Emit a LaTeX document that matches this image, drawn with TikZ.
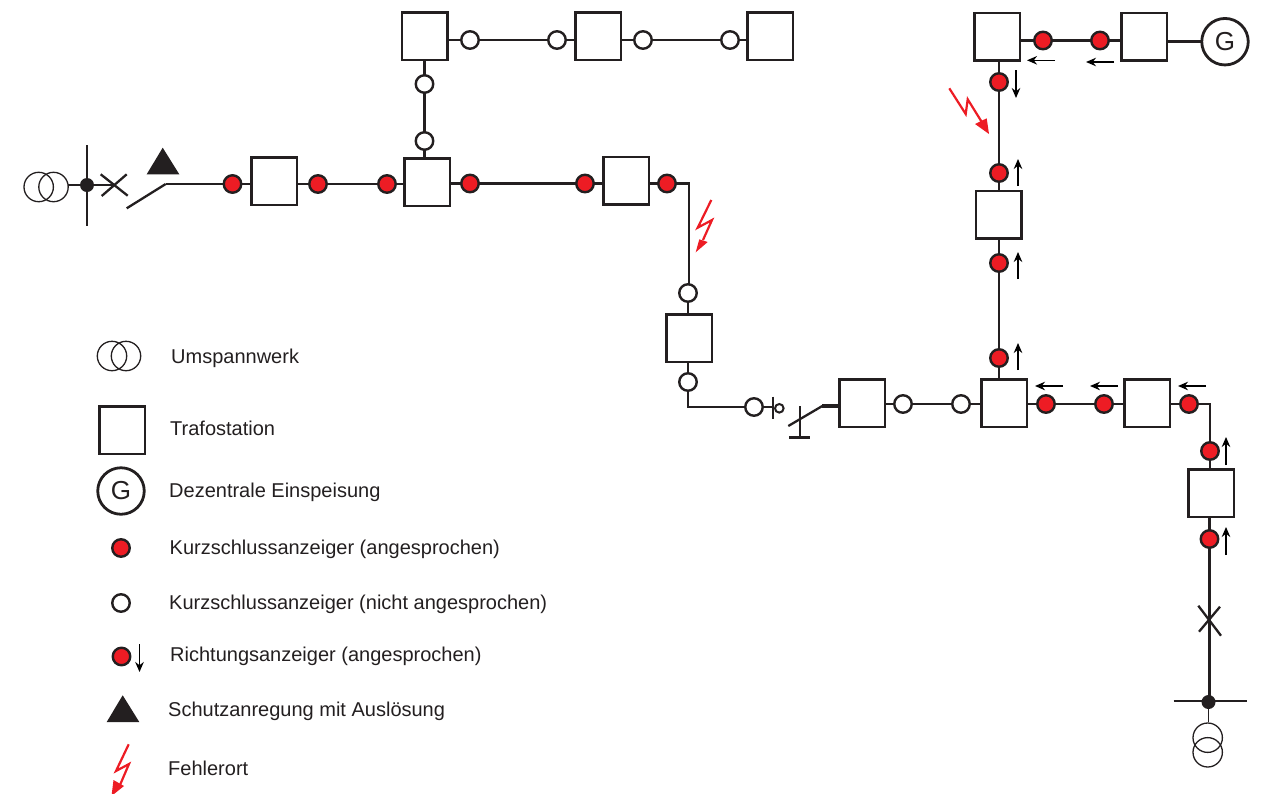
\documentclass[tikz,border=0pt]{standalone}
\usepackage{fontspec}
\setmainfont{Liberation Sans}
\usetikzlibrary{arrows.meta,calc}
\definecolor{ink}{HTML}{231F20}
\definecolor{kred}{HTML}{ED1C24}
\tikzset{
 wire/.style={draw=ink,line width=2.3pt},
 thickwire/.style={draw=ink,line width=3.4pt},
 thinring/.style={draw=ink,line width=1.3pt},
 station/.style={draw=ink,line width=2.5pt,fill=white,minimum width=45.5pt,minimum height=47.5pt,inner sep=0pt,outer sep=0pt},
 kzred/.style={circle,draw=ink,line width=2.4pt,fill=kred,minimum size=17.5pt,inner sep=0pt,outer sep=0pt},
 kzopen/.style={circle,draw=ink,line width=2.4pt,fill=white,minimum size=17.5pt,inner sep=0pt,outer sep=0pt},
 gen/.style={circle,draw=ink,line width=2.8pt,fill=white,minimum size=46.5pt,inner sep=0pt,outer sep=0pt,font=\fontsize{26}{26}\selectfont,text=ink},
 dotnode/.style={circle,fill=ink,minimum size=14pt,inner sep=0pt,outer sep=0pt},
 dirarrow/.style={draw=black,line width=1.5pt,-{Stealth[length=10pt,width=8.5pt]}},
 bolt/.style={draw=kred,line width=2.2pt,line join=miter},
 bolthead/.style={fill=kred},
 legendtext/.style={anchor=base west,inner sep=0pt,text=ink,font=\fontsize{20}{22}\selectfont},
}
\begin{document}
\begin{tikzpicture}[x=1pt,y=-1pt]
\useasboundingbox (0,0) rectangle (1261,793);
% stations
\node[station] (s1) at (424.5,36) {};
\node[station] (s2) at (598,36) {};
\node[station] (s3) at (770,36) {};
\node[station] (s4) at (274,181) {};
\node[station] (s5) at (427,182) {};
\node[station] (s6) at (626,180.5) {};
\node[station] (s7) at (689,338) {};
\node[station] (s8) at (862,403) {};
\node[station] (s9) at (1004,403) {};
\node[station] (s10) at (1147,403) {};
\node[station] (s11) at (1211,493) {};
\node[station] (s12) at (998.5,214.5) {};
\node[station] (s13) at (997,36.5) {};
\node[station] (s14) at (1144.3,36.5) {};
\node[gen] (g1) at (1225,41.7) {G};
% indicators
\node[kzopen] (a1) at (470,40) {};
\node[kzopen] (a2) at (557,40) {};
\node[kzopen] (a3) at (643,40) {};
\node[kzopen] (a4) at (730,40) {};
\node[kzopen] (a5) at (424.5,84) {};
\node[kzopen] (a6) at (424.5,141) {};
\node[kzred] (b1) at (232.5,184) {};
\node[kzred] (b2) at (318,184) {};
\node[kzred] (b3) at (387,184) {};
\node[kzred] (b4) at (470,183.5) {};
\node[kzred] (b5) at (585,183.5) {};
\node[kzred] (b6) at (667,183.5) {};
\node[kzopen] (a7) at (688,293) {};
\node[kzopen] (a8) at (688,382) {};
\node[kzopen] (a9) at (754,407) {};
\node[kzopen] (a10) at (903,404) {};
\node[kzopen] (a11) at (961,404) {};
\node[kzred] (b7) at (1046,404) {};
\node[kzred] (b8) at (1104,404) {};
\node[kzred] (b9) at (1189,404) {};
\node[kzred] (b10) at (1210,451) {};
\node[kzred] (b11) at (1209.5,539) {};
\node[kzred] (b12) at (999,358) {};
\node[kzred] (b13) at (999,263) {};
\node[kzred] (b14) at (999,173) {};
\node[kzred] (b15) at (999,82) {};
\node[kzred] (b16) at (1043,40.5) {};
\node[kzred] (b17) at (1100,40.5) {};
% named free points
\coordinate (sw1) at (165.7,184);
\coordinate (sw1a) at (126.7,208.3);
\coordinate (ss1) at (87,185);
\coordinate (xx1) at (114,185);
\coordinate (cr1) at (689,183.5);
\coordinate (cr2) at (688,407);
\coordinate (tick) at (773,407);
\coordinate (sw2) at (822.3,406);
\coordinate (sw2a) at (788.3,426);
\coordinate (cr3) at (1210,404);
\coordinate (busj) at (1209.5,702);
% connectors
\draw[wire] (s1.east |- a1) -- (a1);
\draw[wire] (a1) -- (a2);
\draw[wire] (a2) -- (s2.west |- a2);
\draw[wire] (s2.east |- a3) -- (a3);
\draw[wire] (a3) -- (a4);
\draw[wire] (a4) -- (s3.west |- a4);
\draw[wire] (s1.south -| a5) -- (a5);
\draw[wire] (a5) -- (a6);
\draw[wire] (a6) -- (s5.north -| a6);
\draw[wire] (sw1) -- (b1);
\draw[wire] (b1) -- (s4.west |- b1);
\draw[wire] (s4.east |- b2) -- (b2);
\draw[wire] (b2) -- (b3);
\draw[wire] (b3) -- (s5.west |- b3);
\draw[wire] (s5.east |- b4) -- (b4);
\draw[wire] (b4) -- (b5);
\draw[wire] (b5) -- (s6.west |- b5);
\draw[wire] (s6.east |- b6) -- (b6);
\draw[wire] (b6) -- (cr1) -- (a7.north -| cr1);
\draw[wire] (a7) -- (s7.north -| a7);
\draw[wire] (s7.south -| a8) -- (a8);
\draw[wire] (a8) -- (cr2) -- (a9);
\draw[wire] (a9) -- (tick);
\draw[wire] (s8.east |- a10) -- (a10);
\draw[wire] (a10) -- (a11);
\draw[wire] (a11) -- (s9.west |- a11);
\draw[wire] (s9.east |- b7) -- (b7);
\draw[wire] (b7) -- (b8);
\draw[wire] (b8) -- (s10.west |- b8);
\draw[wire] (s10.east |- b9) -- (b9);
\draw[wire] (b9) -- (cr3) -- (b10);
\draw[wire] (b10) -- (s11.north -| b10);
\draw[wire] (s11.south -| b11) -- (b11);
\draw[wire] (b11) -- (busj);
\draw[wire] (s9.north -| b12) -- (b12);
\draw[wire] (b12) -- (b13);
\draw[wire] (b13) -- (s12.south -| b13);
\draw[wire] (s12.north -| b14) -- (b14);
\draw[wire] (b14) -- (b15);
\draw[wire] (b15) -- (s13.south -| b15);
\draw[wire] (s13.east |- b16) -- (b16);
\draw[wire] (b16) -- (b17);
\draw[wire] (b17) -- (s14.west |- b17);
\draw[thickwire] (s14.east |- g1) -- (g1);
% left feed-in
\draw[thinring] (38.7,187) circle (14.7);
\draw[thinring] (53.5,187) circle (14.7);
\draw[wire] (87,145) -- (87,226);
\draw[wire] (68,185) -- (ss1) -- (xx1);
\node[dotnode] (d1) at (ss1) {};
\draw[wire] (100.7,174.3) -- (127.7,195.7);
\draw[wire] (126.7,174.3) -- (101.7,196);
\draw[wire] (sw1a) -- (sw1);
\fill[ink] (162.7,147.7) -- (146.7,174.3) -- (179.3,174.3) -- cycle;
% open point
\draw[wire] (773,396.7) -- (773,419);
\draw[draw=ink,line width=2pt,fill=white] (779.3,408.3) circle (4.3);
\draw[wire] (800,406) -- (800,437.5);
\draw[wire] (789,437.5) -- (810.3,437.5);
\draw[wire] (sw2a) -- (sw2);
\draw[thickwire] (sw2) -- (s8.west |- sw2);
% bottom feed
\draw[wire] (1198.3,605.7) -- (1221,635.7);
\draw[wire] (1220,606.7) -- (1199,631.7);
\draw[wire] (1173.7,701.3) -- (1246.7,701.3);
\node[dotnode] (d2) at (1208.5,702) {};
\draw[draw=ink,line width=1.7pt] (d2) -- (1208.5,722);
\draw[thinring] (1207.7,737.7) circle (14.7);
\draw[thinring] (1207.7,752.3) circle (14.7);
% direction arrows
\draw[dirarrow] (1055,60.3) -- (1027,60.3);
\draw[dirarrow] (1114,62) -- (1086,62);
\draw[dirarrow] (1016,70) -- (1016,98);
\draw[dirarrow] (1018,186) -- (1018,159);
\draw[dirarrow] (1018,279) -- (1018,252);
\draw[dirarrow] (1018,370) -- (1018,343);
\draw[dirarrow] (1063,386) -- (1035,386);
\draw[dirarrow] (1118,386) -- (1090,386);
\draw[dirarrow] (1206,386) -- (1178,386);
\draw[dirarrow] (1226,465) -- (1226,437);
\draw[dirarrow] (1226,555) -- (1226,527);
% fault bolts
\draw[bolt] (711.3,200) -- (697.7,227.7) -- (712,220) -- (703,240);
\fill[bolthead] (699.3,239.3) -- (695.7,252.3) -- (707.7,242) -- cycle;
\draw[bolt] (949.3,88.3) -- (965.7,114) -- (967.7,99.3) -- (983,124);
\fill[bolthead] (975,124) -- (989,134) -- (986.7,118.3) -- cycle;
% legend
\draw[thinring] (112,356) circle (14.7);
\draw[thinring] (126,356) circle (14.7);
\node[legendtext] (t1) at (171,363) {Umspannwerk};
\node[station] (l2) at (122,430) {};
\node[legendtext] (t2) at (170,435) {Trafostation};
\node[gen] (l3) at (121,491) {G};
\node[legendtext] (t3) at (169,497) {Dezentrale Einspeisung};
\node[kzred] (l4) at (121,548) {};
\node[legendtext] (t4) at (169.5,554) {Kurzschlussanzeiger (angesprochen)};
\node[kzopen] (l5) at (121,603) {};
\node[legendtext] (t5) at (169,609) {Kurzschlussanzeiger (nicht angesprochen)};
\node[kzred] (l6) at (121.5,656.5) {};
\draw[dirarrow] (139.5,644) -- (139.5,672);
\node[legendtext] (t6) at (170,661) {Richtungsanzeiger (angesprochen)};
\fill[ink] (122.7,695.3) -- (106.7,722) -- (139.3,722) -- cycle;
\node[legendtext] (t7) at (168,716) {Schutzanregung mit Auslösung};
\draw[bolt] (128.7,744.3) -- (116,771) -- (129,764) -- (120,785);
\fill[bolthead] (113.5,780) -- (111.5,796) -- (124,786) -- cycle;
\node[legendtext] (t8) at (168,775) {Fehlerort};
\end{tikzpicture}
\end{document}
